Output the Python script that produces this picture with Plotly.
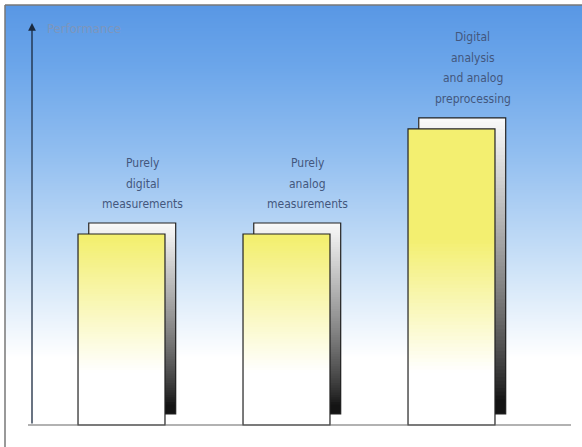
import numpy as np
import plotly.graph_objects as go

# ---- data ----
categories = ["Purely digital measurements", "Purely analog measurements",
              "Digital analysis and analog preprocessing"]
label_lines = [["Purely", "digital", "measurements"],
               ["Purely", "analog", "measurements"],
               ["Digital", "analysis", "and analog", "preprocessing"]]
performance = [2.0, 2.0, 3.1]
axis_title = "Performance"

# ---- geometry / style ----
W, H = 582, 447
xpos = [1, 2, 3]
bar_w = 0.527
dx_back, dy_back = 0.065, 0.115
px_per_x, px0 = 165.0, 121.5        # x=1 at 121.5 px
px_per_y, base_px = 95.5, 425.0
xr = [1 - px0 / px_per_x, 1 + (W - px0) / px_per_x]
yr = [-(H - base_px) / px_per_y, base_px / px_per_y]
FONT = "DejaVu Sans Condensed, Liberation Sans Narrow, Roboto, sans-serif"

def X(px):
    return 1 + (px - px0) / px_per_x

N = 80
fig = go.Figure()

# background gradient (heatmap)
ys = np.linspace(yr[0], yr[1], 200)
z = [[v, v] for v in ys]
bg_scale = [[0.0, "#ffffff"], [0.20, "#ffffff"], [0.42, "#c9e0f7"],
            [0.65, "#93bff0"], [0.85, "#6ca6ea"], [1.0, "#5796e4"]]
fig.add_trace(go.Heatmap(x=[xr[0], xr[1]], y=ys, z=z, colorscale=bg_scale,
                         showscale=False, hoverinfo="skip", zsmooth="best"))

def lerp(c1, c2, t):
    return "rgb(%d,%d,%d)" % tuple(round(a + (b - a) * t) for a, b in zip(c1, c2))

# back bars (black at bottom -> white at top, relative gradient)
bx, bb, bh, bc = [], [], [], []
for x, v in zip(xpos, performance):
    seg = v / N
    for k in range(N):
        t = (k + 0.5) / N  # 0 bottom .. 1 top
        tt = min(1, max(0, (t - 0.05) / 0.95)) ** 0.8
        bx.append(x + dx_back); bb.append(dy_back + k * seg); bh.append(v - k * seg)
        bc.append(lerp((20, 20, 20), (250, 250, 250), tt))
fig.add_trace(go.Bar(x=bx, y=bh, base=bb, width=bar_w, marker_color=bc,
                     marker_line_width=0, hoverinfo="skip", showlegend=False))
fig.add_trace(go.Bar(x=[x + dx_back for x in xpos], y=performance,
                     base=[dy_back] * 3, width=bar_w,
                     marker=dict(color="rgba(0,0,0,0)", line=dict(color="#222", width=1.2)),
                     hoverinfo="skip", showlegend=False))

# front bars (white at bottom -> yellow, absolute gradient)
fx, fb, fh, fc = [], [], [], []
for x, v in zip(xpos, performance):
    seg = v / N
    for k in range(N):
        yc = (k + 0.5) * seg
        t = min(1, max(0, (yc - 0.55) / (1.95 - 0.55)))
        fx.append(x); fb.append(k * seg); fh.append(v - k * seg)
        fc.append(lerp((255, 255, 255), (243, 239, 112), t))
fig.add_trace(go.Bar(x=fx, y=fh, base=fb, width=bar_w, marker_color=fc,
                     marker_line_width=0, hoverinfo="skip", showlegend=False))
fig.add_trace(go.Bar(x=xpos, y=performance, width=bar_w,
                     marker=dict(color="rgba(0,0,0,0)", line=dict(color="#222", width=1.2)),
                     hoverinfo="skip", showlegend=False))

# labels above bars, one annotation per line for exact spacing
line_step = 20.5 / px_per_y
for x, v, lines in zip(xpos, performance, label_lines):
    n = len(lines)
    for i, txt in enumerate(lines):
        yc = v + dy_back + 19 / px_per_y + (n - 1 - i) * line_step
        fig.add_annotation(x=x + 0.13, y=yc, text=txt, showarrow=False,
                           yanchor="middle", xanchor="center",
                           font=dict(family=FONT, size=12, color="#43577d"))

# y axis arrow and title
fig.add_annotation(x=X(32), y=(base_px - 23) / px_per_y, ax=X(32), ay=0,
                   xref="x", yref="y", axref="x", ayref="y", text="",
                   showarrow=True, arrowhead=2, arrowsize=1.2, arrowwidth=1.3,
                   arrowcolor="#1a2a40")
fig.add_annotation(x=X(45), y=(base_px - 28) / px_per_y, text=axis_title,
                   showarrow=False, xanchor="left", yanchor="middle",
                   font=dict(family=FONT, size=13, color="#7d96bc"))

# baseline
fig.add_shape(type="line", x0=X(28), x1=X(571), y0=0, y1=0,
              line=dict(color="#666", width=1.2))

# frame
fig.add_shape(type="rect", xref="paper", yref="paper", x0=0, x1=1,
              y0=1 - 5 / H, y1=1, fillcolor="white", line_width=0, layer="above")
fig.add_shape(type="rect", xref="paper", yref="paper", x0=0, x1=5 / W,
              y0=0, y1=1, fillcolor="white", line_width=0, layer="above")
fig.add_shape(type="line", xref="paper", yref="paper", x0=5 / W, x1=1,
              y0=1 - 5 / H, y1=1 - 5 / H, line=dict(color="#777", width=1.5), layer="above")
fig.add_shape(type="line", xref="paper", yref="paper", x0=5 / W, x1=5 / W,
              y0=0, y1=1 - 5 / H, line=dict(color="#777", width=1.5), layer="above")

fig.update_layout(width=W, height=H, margin=dict(l=0, r=0, t=0, b=0),
                  barmode="overlay", showlegend=False,
                  plot_bgcolor="white", paper_bgcolor="white",
                  xaxis=dict(range=xr, visible=False, fixedrange=True),
                  yaxis=dict(range=yr, visible=False, fixedrange=True))
fig.write_html("out.html", config={"displayModeBar": False},
               post_script="document.body.style.margin='0';document.body.style.overflow='hidden';")
